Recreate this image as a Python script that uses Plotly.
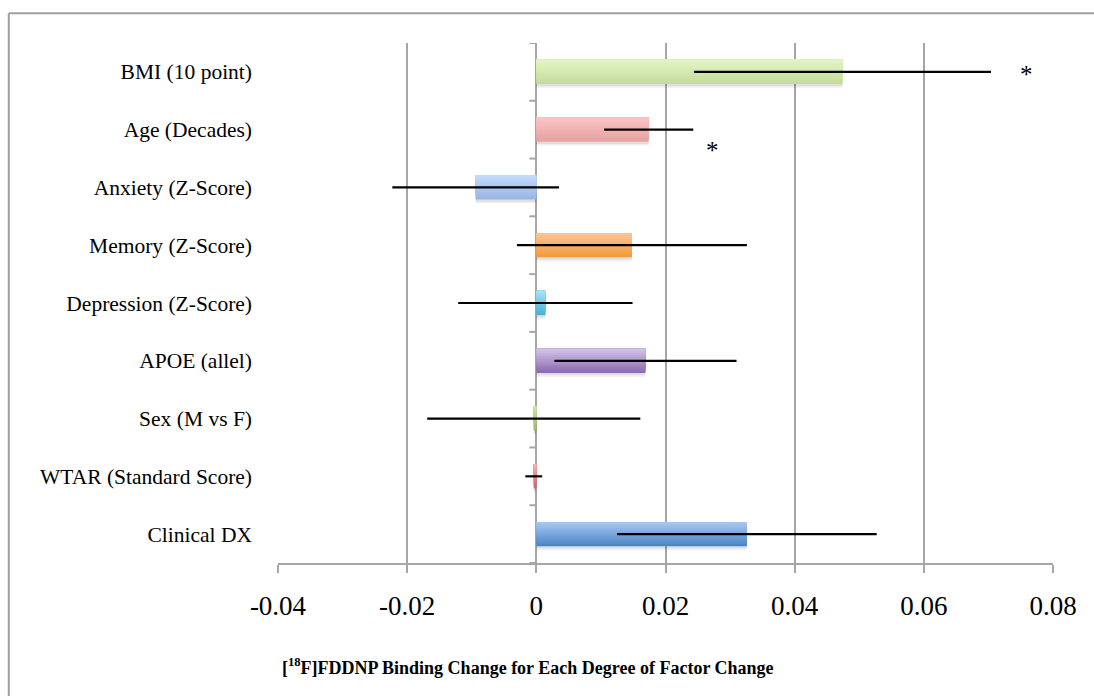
import plotly.graph_objects as go

# ---- data (top to bottom as shown) ----
factors = ["BMI (10 point)", "Age (Decades)", "Anxiety (Z-Score)", "Memory (Z-Score)",
           "Depression (Z-Score)", "APOE (allel)", "Sex (M vs F)",
           "WTAR (Standard Score)", "Clinical DX"]
estimate = [0.0474, 0.0174, -0.0094, 0.0148, 0.0014, 0.0169, -0.0004, -0.0004, 0.0326]
err_half = [0.0230, 0.0069, 0.0129, 0.0178, 0.0135, 0.0141, 0.0165, 0.0013, 0.0201]
significant = [True, True, False, False, False, False, False, False, False]
star_x = [0.0759, 0.0272]
x_ticks = [-0.04, -0.02, 0, 0.02, 0.04, 0.06, 0.08]
x_tick_text = ["-0.04", "-0.02", "0", "0.02", "0.04", "0.06", "0.08"]

# colours: (top/light, bottom/dark)
col_light = ["#e2f6c6", "#fcc4c4", "#c3dbfb", "#fdc698", "#a8e5f8", "#d4c5eb", "#d0e8a8", "#f4b8b8", "#a9c9f5"]
col_dark = ["#c4da9a", "#e6a0a0", "#97b4e3", "#f3993a", "#43b0d3", "#8a68ac", "#98b860", "#d06060", "#4983c4"]

W, H = 1094, 696
L, R, T, B = 277.5, 40.7, 42.7, 133
pw, ph = W - L - R, H - T - B

def hex2rgb(h):
    h = h.lstrip("#")
    return tuple(int(h[i:i + 2], 16) for i in (0, 2, 4))

def mix(a, b, t):
    ra, rb = hex2rgb(a), hex2rgb(b)
    return "rgb(%d,%d,%d)" % tuple(round(ra[i] + (rb[i] - ra[i]) * t) for i in range(3))

fig = go.Figure()
bar_w = 0.42
n_sl = 12
sl = bar_w / n_sl

# soft shadow
for j, a in enumerate([0.05, 0.08]):
    fig.add_trace(go.Bar(x=estimate, y=factors, orientation="h", width=bar_w,
                         offset=-bar_w / 2 - 0.04 - 0.03 * (1 - j),
                         marker=dict(color="rgba(0,0,0,%g)" % a, line=dict(width=0)),
                         hoverinfo="skip", showlegend=False))
# gradient slices (bottom dark -> top light); each slice reaches the top, later ones cover earlier
for k in range(n_sl):
    t = (k + 0.5) / n_sl
    fig.add_trace(go.Bar(x=estimate, y=factors, orientation="h", width=bar_w - k * sl,
                         offset=-bar_w / 2 + k * sl,
                         marker=dict(color=[mix(col_dark[i], col_light[i], t) for i in range(len(factors))],
                                     line=dict(width=0)),
                         hoverinfo="skip", showlegend=False))
# error bars
fig.add_trace(go.Scatter(x=estimate, y=factors, mode="markers",
                         marker=dict(size=0.1, color="rgba(0,0,0,0)"),
                         error_x=dict(type="data", array=err_half, color="black", thickness=2.2, width=0),
                         hoverinfo="skip", showlegend=False))

# asterisks
sig_factors = [f for f, s in zip(factors, significant) if s]
shifts = [-3, -21]
for f, sx, ys in zip(sig_factors, star_x, shifts):
    fig.add_annotation(x=sx, y=f, text="*", showarrow=False, yshift=ys,
                       font=dict(family="Liberation Serif", size=25, color="black"))

# small ticks on the zero line at category boundaries
for i in range(len(factors) + 1):
    fig.add_shape(type="line", xref="x", yref="y", xsizemode="pixel", xanchor=0,
                  x0=-7, x1=0, y0=i - 0.5, y1=i - 0.5, line=dict(color="#a6a6a6", width=2))

# outer frame (left + top edges)
x_left = (8 - L) / pw
y_top = (H - B - 13) / ph
fig.add_shape(type="line", xref="paper", yref="paper", x0=x_left, x1=1.2, y0=y_top, y1=y_top,
              line=dict(color="#a0a0a0", width=2))
fig.add_shape(type="line", xref="paper", yref="paper", x0=x_left, x1=x_left, y0=y_top, y1=-0.4,
              line=dict(color="#a0a0a0", width=2))

# axis title
fig.add_annotation(xref="paper", yref="paper", x=(528 - L) / pw, y=(H - B - 667) / ph,
                   text="<b>[<sup>18</sup>F]FDDNP Binding Change for Each Degree of Factor Change</b>",
                   showarrow=False, xanchor="center", yanchor="middle",
                   font=dict(family="Liberation Serif", size=18, color="black"))

fig.update_layout(
    width=W, height=H, margin=dict(l=L, r=R, t=T, b=B, autoexpand=False),
    paper_bgcolor="white", plot_bgcolor="white", barmode="overlay",
    xaxis=dict(range=[-0.04, 0.08], tickvals=x_ticks, ticktext=x_tick_text,
               showgrid=True, gridcolor="#a6a6a6", gridwidth=2, zeroline=False,
               showline=True, linecolor="#a6a6a6", linewidth=2,
               ticks="outside", ticklen=8, tickwidth=2, tickcolor="#a6a6a6",
               ticklabelstandoff=10,
               tickfont=dict(family="Liberation Serif", size=27, color="black")),
    yaxis=dict(categoryorder="array", categoryarray=factors[::-1], showgrid=False,
               zeroline=False, showline=False, ticks="", ticklabelstandoff=25,
               tickfont=dict(family="Liberation Serif", size=21.5, color="black"),
               range=[-0.5, len(factors) - 0.5]),
)

fig.write_html("out.html", config={"displayModeBar": False},
               post_script="document.body.style.margin='0';")
